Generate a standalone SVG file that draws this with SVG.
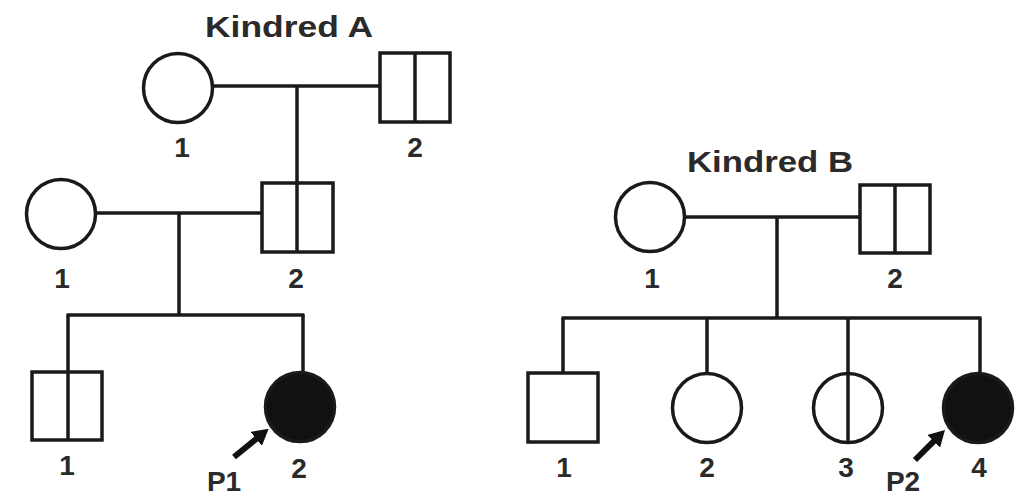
<svg xmlns="http://www.w3.org/2000/svg" width="1020" height="497" viewBox="0 0 1020 497">
  <defs>
    <style>
      .ln { stroke: #1a1a1a; stroke-width: 3.5; fill: none; stroke-linecap: butt; }
      .sym { stroke: #1a1a1a; stroke-width: 3.5; fill: #ffffff; }
      .aff { stroke: #1a1a1a; stroke-width: 3.5; fill: #111111; }
      .num { font-family: "Liberation Sans", Arial, sans-serif; font-weight: bold; font-size: 28px; fill: #2a2a2a; text-anchor: middle; }
      .ttl { font-family: "Liberation Sans", Arial, sans-serif; font-weight: bold; font-size: 30px; fill: #2a2a2a; }
      .ptr { stroke: #111111; stroke-width: 6; fill: none; }
    </style>
    <marker id="head" viewBox="0 0 16 18" refX="6" refY="9" markerWidth="16" markerHeight="18" orient="auto" markerUnits="userSpaceOnUse">
      <path d="M0,0 L16,9 L0,18 Z" fill="#111111"/>
    </marker>
  </defs>
  <rect width="1020" height="497" fill="#ffffff"/>

  <!-- titles -->
  <text class="ttl" x="205" y="37" textLength="168" lengthAdjust="spacingAndGlyphs">Kindred A</text>
  <text class="ttl" x="687" y="172" textLength="166" lengthAdjust="spacingAndGlyphs">Kindred B</text>

  <!-- connectors -->
  <g id="connectors">
    <!-- Kindred A -->
    <line class="ln" x1="213" y1="86" x2="380" y2="86"/>
    <line class="ln" x1="297" y1="86" x2="297" y2="183"/>
    <line class="ln" x1="97" y1="213" x2="262" y2="213"/>
    <line class="ln" x1="179" y1="213" x2="179" y2="315"/>
    <line class="ln" x1="66.5" y1="315" x2="304.5" y2="315"/>
    <line class="ln" x1="68" y1="315" x2="68" y2="372"/>
    <line class="ln" x1="303" y1="315" x2="303" y2="372"/>
    <!-- Kindred B -->
    <line class="ln" x1="685" y1="217" x2="860" y2="217"/>
    <line class="ln" x1="777" y1="217" x2="777" y2="318"/>
    <line class="ln" x1="561.5" y1="318" x2="981.5" y2="318"/>
    <line class="ln" x1="563" y1="318" x2="563" y2="373"/>
    <line class="ln" x1="707" y1="318" x2="707" y2="373"/>
    <line class="ln" x1="848" y1="318" x2="848" y2="373"/>
    <line class="ln" x1="980" y1="318" x2="980" y2="373"/>
  </g>

  <!-- Kindred A, generation I -->
  <g id="A-I-1">
    <circle class="sym" cx="178" cy="88" r="34.5"/>
    <text class="num" x="182" y="157">1</text>
  </g>
  <g id="A-I-2">
    <rect class="sym" x="380" y="53" width="70" height="69"/>
    <line class="ln" x1="415" y1="53" x2="415" y2="122"/>
    <text class="num" x="415" y="157">2</text>
  </g>

  <!-- Kindred A, generation II -->
  <g id="A-II-1">
    <circle class="sym" cx="61" cy="214" r="34.5"/>
    <text class="num" x="62" y="288">1</text>
  </g>
  <g id="A-II-2">
    <rect class="sym" x="262" y="183" width="71" height="69"/>
    <line class="ln" x1="297" y1="183" x2="297" y2="252"/>
    <text class="num" x="296" y="288">2</text>
  </g>

  <!-- Kindred A, generation III -->
  <g id="A-III-1">
    <rect class="sym" x="32" y="372" width="70" height="68"/>
    <line class="ln" x1="68" y1="372" x2="68" y2="440"/>
    <text class="num" x="67" y="475">1</text>
  </g>
  <g id="A-III-2">
    <circle class="aff" cx="300" cy="407" r="34.5"/>
    <text class="num" x="299" y="478">2</text>
    <line class="ptr" x1="234" y1="457" x2="260.9" y2="435.1" marker-end="url(#head)"/>
    <text class="num" x="224" y="491">P1</text>
  </g>

  <!-- Kindred B, generation I -->
  <g id="B-I-1">
    <circle class="sym" cx="650" cy="217" r="34.5"/>
    <text class="num" x="652" y="288">1</text>
  </g>
  <g id="B-I-2">
    <rect class="sym" x="860" y="185" width="70" height="68"/>
    <line class="ln" x1="895" y1="185" x2="895" y2="253"/>
    <text class="num" x="895" y="288">2</text>
  </g>

  <!-- Kindred B, generation II -->
  <g id="B-II-1">
    <rect class="sym" x="528" y="373" width="70" height="69"/>
    <text class="num" x="564" y="477">1</text>
  </g>
  <g id="B-II-2">
    <circle class="sym" cx="707" cy="408" r="34.5"/>
    <text class="num" x="707" y="477">2</text>
  </g>
  <g id="B-II-3">
    <circle class="sym" cx="848" cy="408" r="34.5"/>
    <line class="ln" x1="848" y1="373" x2="848" y2="443"/>
    <text class="num" x="846" y="477">3</text>
  </g>
  <g id="B-II-4">
    <circle class="aff" cx="978" cy="408" r="34.5"/>
    <text class="num" x="979" y="477">4</text>
    <line class="ptr" x1="915" y1="460" x2="937.9" y2="437.1" marker-end="url(#head)"/>
    <text class="num" x="903" y="491">P2</text>
  </g>
</svg>
